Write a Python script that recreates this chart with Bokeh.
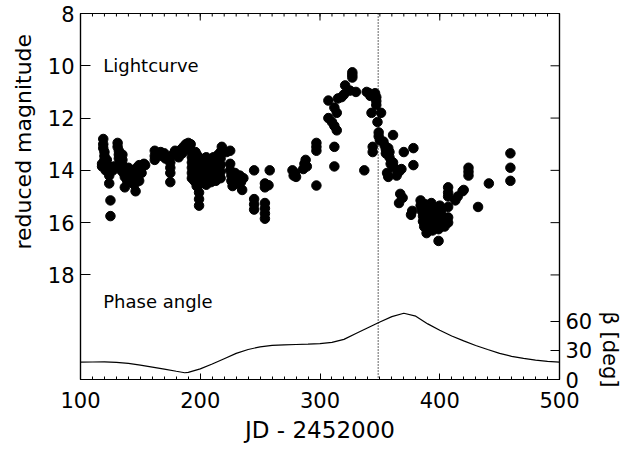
from bokeh.plotting import figure
from bokeh.models import (Range1d, LinearAxis, FixedTicker, Span, Label, Title, ColumnDataSource)
from bokeh.embed import file_html
from bokeh.resources import INLINE

# ---------------- data ----------------
# lightcurve points: JD - 2452000 and reduced magnitude
jd_a = [118,118,119,119,119,120,120,120,120,121,121,122,122,123,124,124,125,125,127,128,
        131,131,132,132,132,133,133,134,135,135,135,136,137,137,139,139,140,141,142,143,
        144,145,146,146,147,148,149,149,150,151,152,153,154]
mag_a = [13.75,13.85,12.8,13.0,13.15,13.3,13.45,13.6,13.75,13.9,14.0,13.6,13.8,14.0,14.2,14.5,15.15,15.75,14.0,13.85,
         12.95,13.1,13.25,13.4,13.55,13.7,13.85,14.0,13.4,13.6,13.8,14.1,14.25,14.65,14.4,14.1,13.9,14.2,14.45,14.0,
         14.3,14.55,14.8,14.1,13.9,14.2,14.4,13.8,13.95,14.1,13.8,13.75,13.8]

jd_b = [162,162,162,167,168,170,171,174,175,175,175,175,177,179,181,182,184,185,186,188,
        189,190,191,192,193,194,195,196]
mag_b = [13.25,13.45,13.6,13.3,13.45,13.35,13.55,13.5,13.7,13.9,14.1,14.45,13.4,13.25,13.35,13.5,13.2,13.35,13.1,13.0,
         13.2,12.95,13.1,13.0,13.3,13.5,13.7,13.3]

jd_c = [193,193,193,193,193,195,195,195,195,195,197,197,197,197,197,197,
        199,199,199,199,199,199,199,199,201,201,201,201,203,203,203,203,
        205,205,205,205,205,207,207,207,207,209,209,209,209,211,211,211,211,
        213,213,213,213,215,215,215,215,217,217,217,217,217,218]
mag_c = [13.5,13.7,13.9,14.1,14.3,13.6,13.8,14.0,14.2,14.4,13.4,13.7,13.95,14.2,14.45,14.6,
         13.5,13.8,14.05,14.3,14.55,14.85,15.1,15.35,13.6,13.9,14.1,14.35,13.7,13.95,14.2,14.45,
         13.5,13.8,14.0,14.3,14.55,13.6,13.85,14.1,14.35,13.7,13.95,14.2,14.45,13.5,13.8,14.05,14.3,
         13.6,13.9,14.15,14.4,13.4,13.7,13.95,14.2,13.3,13.55,13.8,14.05,14.3,13.1]

jd_d = [222,225,225,225,226,226,227,229,230,231,233,234,235,236,
        245,245,245,245,254,254,254,254,254,254,258,257]
mag_d = [13.3,13.25,13.75,14.0,14.2,14.4,14.6,14.1,14.3,14.5,14.2,14.45,14.75,14.3,
         14.0,15.1,15.3,15.5,14.5,14.65,15.25,15.45,15.65,15.85,14.0,14.57]

jd_e = [277,278,279,280,286,287,288,289,297,297,297,297,
        307,307,310,312,314,312,314,312,312,315,318,320,321,325,327,327,327,330,337]
mag_e = [14.0,14.2,14.1,14.25,13.95,13.75,13.6,13.85,12.95,13.1,13.25,14.58,
         11.33,12.0,12.15,12.3,12.47,11.6,11.8,13.1,13.85,11.25,11.2,11.1,10.75,10.95,10.25,10.35,10.45,11.0,14.0]

jd_f = [339,341,342,346,347,347,347,343,351,348,344,344,349,349,350,353,354,355,355,357,
        358,358,361,359,356,357,361,362,364,366,368,370,378,378]
mag_f = [11.0,11.05,11.15,11.05,11.2,11.35,11.5,11.8,11.8,12.15,13.1,13.3,12.55,12.7,12.85,12.9,13.05,13.2,13.35,13.15,
         13.3,13.5,12.65,13.75,14.1,14.25,13.7,13.9,14.2,14.05,13.95,13.3,13.15,13.8]

jd_g = [366,367,369,376,377,384,384,385,386,386,387,388,389,390,391,392,393,393,394,395,
        396,397,398,399,399,400,401,402,403,404,407,407,407,407,407,407]
mag_g = [15.25,14.9,15.05,15.7,15.55,15.15,15.35,15.55,15.75,15.95,16.15,15.3,16.4,15.5,15.7,15.9,16.1,15.25,16.3,15.45,
         15.65,15.85,16.05,16.25,16.7,15.35,15.55,15.75,15.95,16.15,14.65,14.85,15.0,15.4,15.8,16.0]

jd_h = [413,415,419,420,424,424,424,432,441,459,459,459]
mag_h = [15.15,15.0,14.8,14.75,13.9,14.05,14.2,15.4,14.5,13.35,13.9,14.4]

jd = jd_a + jd_b + jd_c + jd_d + jd_e + jd_f + jd_g + jd_h
mag = mag_a + mag_b + mag_c + mag_d + mag_e + mag_f + mag_g + mag_h

# phase angle beta [deg]
phase_jd = [100,110,120,130,140,150,160,170,180,187,190,200,210,220,230,240,250,260,270,280,
            290,300,310,320,330,340,350,360,370,380,390,400,410,420,430,440,450,460,470,480,490,500]
phase_beta = [17.9,18.1,18.2,17.8,16.6,14.8,12.8,10.7,8.5,7.0,7.4,11.0,16.0,21.5,27.0,31.0,33.8,35.2,35.8,36.2,
              36.6,37.2,38.4,41.5,47.5,53.5,59.5,65.0,68.5,65.5,57.5,51.0,45.0,40.0,35.2,31.0,27.0,24.0,21.8,20.0,18.8,17.9]

event_jd = 348.6

x_ticks = [100, 200, 300, 400, 500]
x_minor = list(range(100, 501, 10))
mag_ticks = [8, 10, 12, 14, 16, 18]
beta_ticks = [0, 30, 60]

# ---------------- figure ----------------
FONT = "DejaVu Sans"
X0, X1 = 100, 500
MAG_TOP, MAG_BOTTOM = 8, 22
BETA_TOP = 378.5
FRAME_W, FRAME_H = 481, 366
PX_PER_JD = FRAME_W / (X1 - X0)
PX_PER_MAG = FRAME_H / (MAG_BOTTOM - MAG_TOP)

p = figure(width=626, height=450, output_backend="svg", toolbar_location=None,
           x_range=Range1d(X0, X1), y_range=Range1d(MAG_BOTTOM, MAG_TOP),
           min_border_left=78, min_border_right=67, min_border_top=13, min_border_bottom=71)
p.extra_y_ranges = {"beta": Range1d(0, BETA_TOP)}
p.outline_line_color = "black"
p.outline_line_width = 1.2
p.grid.visible = False
p.background_fill_color = "white"
p.border_fill_color = "white"

# bottom axis
xa = p.xaxis[0]
xa.ticker = FixedTicker(ticks=x_ticks, minor_ticks=x_minor)
xa.major_tick_in = 6
xa.major_tick_out = 0
xa.minor_tick_in = 3
xa.minor_tick_out = 0
xa.axis_label = "JD - 2452000"
xa.axis_label_text_font = FONT
xa.axis_label_text_font_style = "normal"
xa.axis_label_text_font_size = "23px"
xa.axis_label_text_color = "black"
xa.axis_label_standoff = 6
xa.major_label_text_font = FONT
xa.major_label_text_font_size = "21px"
xa.major_label_text_color = "black"
xa.major_label_standoff = 12
xa.axis_line_width = 1.2

# left axis
ya = p.yaxis[0]
ya.ticker = FixedTicker(ticks=mag_ticks)
ya.major_tick_in = 10
ya.major_tick_out = 0
ya.minor_tick_in = 0
ya.minor_tick_out = 0
ya.major_label_text_font = FONT
ya.major_label_text_font_size = "21px"
ya.major_label_text_color = "black"
ya.major_label_standoff = 6
ya.axis_line_width = 1.2

# right axis: phase angle
right = LinearAxis(y_range_name="beta", ticker=FixedTicker(ticks=beta_ticks),
                   major_tick_in=9, major_tick_out=0, minor_tick_in=0, minor_tick_out=0,
                   major_label_text_font=FONT, major_label_text_font_size="21px",
                   major_label_text_color="black", major_label_standoff=6, axis_line_width=1.2)
p.add_layout(right, "right")

# mirrored ticks on the top edge and magnitude ticks on the right edge
top_x = x_ticks + x_minor
top_len = [7 / PX_PER_MAG] * len(x_ticks) + [3 / PX_PER_MAG] * len(x_minor)
p.segment(x0=top_x, y0=[MAG_TOP] * len(top_x), x1=top_x,
          y1=[MAG_TOP + d for d in top_len], line_color="black", line_width=1)
rm = mag_ticks[1:]
p.segment(x0=[X1] * len(rm), y0=rm, x1=[X1 - 9 / PX_PER_JD] * len(rm), y1=rm,
          line_color="black", line_width=1)

# axis titles placed like the original (centred on their own panel)
p.add_layout(Title(text="reduced magnitude", align="left", offset=130, standoff=17,
                   text_font=FONT, text_font_size="22px", text_font_style="normal",
                   text_color="black"), "left")
p.add_layout(Title(text="β [deg]", align="right", offset=-8, standoff=4,
                   text_font=FONT, text_font_size="21px", text_font_style="normal",
                   text_color="black"), "right")

# panel captions
p.add_layout(Label(x=119, y=10, text="Lightcurve", text_font=FONT, text_font_size="18px",
                   text_baseline="alphabetic", text_color="black"))
p.add_layout(Label(x=119, y=19, text="Phase angle", text_font=FONT, text_font_size="18px",
                   text_baseline="alphabetic", text_color="black"))

# event line
p.add_layout(Span(location=event_jd, dimension="height", line_color="black",
                  line_dash="1 2", line_width=1.2))

# data
src = ColumnDataSource(data=dict(jd=jd, mag=mag))
p.scatter("jd", "mag", source=src, size=9.5, color="black", marker="circle")
p.line(phase_jd, phase_beta, y_range_name="beta", line_color="black", line_width=1.2)

open("out.html", "w").write(file_html(p, INLINE))
